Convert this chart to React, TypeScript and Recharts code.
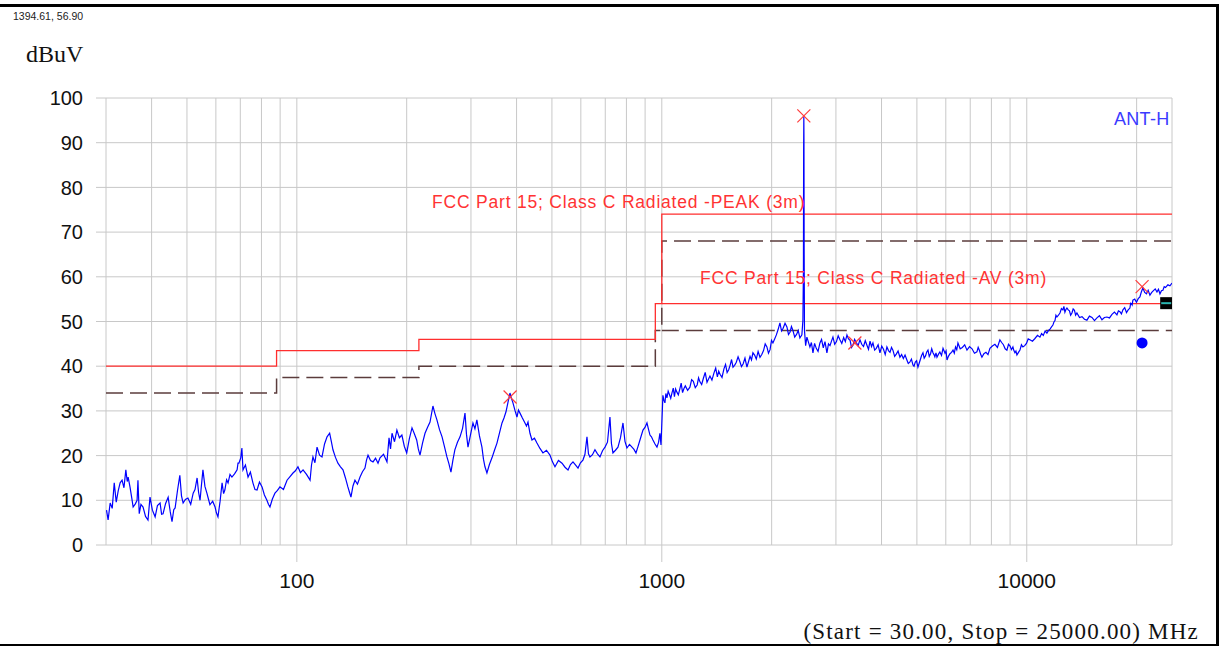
import { ComposedChart, Line, Scatter, XAxis, YAxis, CartesianGrid } from 'recharts';

// grid lines at every 1..9 multiple, labels only on the decades
const gridFreqs = [30, 40, 50, 60, 70, 80, 90, 100, 200, 300, 400, 500, 600, 700, 800, 900, 1000, 2000, 3000, 4000, 5000, 6000, 7000, 8000, 9000, 10000, 20000, 25000];
const labelFreqs = [100, 1000, 10000];
const levelTicks = [0, 10, 20, 30, 40, 50, 60, 70, 80, 90, 100];

// limit lines [MHz, dBuV]
const peakLimit = [[30, 40], [88, 40], [88, 43.5], [216, 43.5], [216, 46], [960, 46], [960, 54], [1000, 54], [1000, 74], [25000, 74]];
const avLimit = [[1000, 54], [25000, 54]];
const peakMargin = [[30, 34], [88, 34], [88, 37.5], [216, 37.5], [216, 40], [960, 40], [960, 48], [1000, 48], [1000, 68], [25000, 68]];
const avMargin = [[1000, 48], [25000, 48]];

// measured trace, 30 - 100 MHz
const traceLow = [
  [30.1, 7.8], [30.4, 5.6], [30.8, 9.4], [31.2, 8.2], [31.6, 13.9], [32.0, 9.6], [32.4, 12.1], [32.8, 13.9], [33.2, 14.5], [33.6, 12.8],
  [34.0, 16.8], [34.3, 14.2], [34.5, 15.2], [34.9, 13.0], [35.3, 10.5], [35.6, 8.5], [36.1, 9.2], [36.5, 10.0], [36.7, 14.5], [37.0, 7.0],
  [37.4, 9.1], [37.9, 8.5], [38.5, 6.4], [39.1, 5.6], [39.6, 10.7], [40.2, 7.8], [40.9, 6.3], [41.5, 8.8], [42.2, 9.4], [42.6, 6.9],
  [43.0, 7.0], [43.7, 9.3], [44.4, 10.7], [45.0, 7.4], [45.5, 5.2], [46.0, 7.9], [46.4, 8.3], [47.1, 12.2], [47.8, 15.6], [48.3, 11.0],
  [48.8, 9.4], [49.5, 10.2], [50.3, 10.5], [51.2, 9.1], [52.0, 11.6], [52.6, 12.4], [53.3, 15.0], [53.8, 11.8], [54.3, 10.0], [54.8, 13.5],
  [55.3, 16.8], [56.0, 13.1], [56.7, 11.6], [57.2, 10.4], [57.8, 9.0], [58.8, 9.8], [59.7, 8.5], [60.2, 7.2], [60.8, 6.3], [61.6, 9.7],
  [62.4, 13.9], [63.0, 11.5], [63.5, 12.3], [64.2, 14.6], [64.8, 13.9], [65.6, 15.8], [66.4, 15.2], [67.5, 15.9], [68.6, 16.8], [69.0, 18.3],
  [69.4, 18.3], [70.2, 19.5], [70.7, 21.7], [71.2, 16.8], [72.3, 17.9], [73.5, 15.2], [74.6, 16.3], [75.8, 13.9], [76.8, 12.4], [77.8, 12.3],
  [79.0, 14.1], [80.3, 13.0], [81.5, 11.2], [82.8, 10.0], [83.6, 9.1], [84.4, 8.5], [85.7, 10.3], [87.1, 11.6], [88.5, 12.2], [89.9, 13.0],
  [91.9, 12.4], [94.0, 14.5], [95.8, 15.3], [97.6, 16.1], [99.1, 16.6], [100.7, 17.5],
];

// 100 - 1000 MHz
const traceMid = [
  [102.3, 16.2], [104, 16.8], [106.3, 15.8], [108.7, 14.5], [109.7, 17.9], [110.7, 19.7], [112.1, 18.4], [113.6, 21.9], [115.4, 20.1], [117.2, 19.7],
  [119.1, 22.6], [121, 24.2], [123, 25.0], [124.3, 23.2], [125.6, 21.3], [127.6, 19.6], [129.6, 18.3], [131.7, 17.5], [133.8, 16.8], [135.9, 15.0],
  [138, 13.0], [139.4, 11.8], [140.7, 10.7], [142.5, 13.2], [144.3, 14.5], [146.6, 13.6], [149, 15.2], [151.3, 16.4], [153.7, 17.2], [155.2, 19.0],
  [156.7, 20.1], [159.2, 18.9], [161.7, 18.6], [164.3, 19.4], [166.9, 18.3], [169, 19.5], [172.8, 20.3], [176.6, 18.6], [178.9, 24.0], [180.6, 21.5],
  [182.3, 25.0], [185.2, 23.1], [188, 25.7], [191, 24.0], [194, 24.6], [197, 22.1], [200, 20.6], [203.4, 23.8], [206.8, 26.2], [209.9, 24.9],
  [213, 23.5], [215.2, 21.5], [217.5, 20.1], [221, 22.8], [224.5, 25.0], [228, 26.3], [231.7, 27.5], [236, 31.1], [239, 29.4], [242, 28.0],
  [246, 25.8], [250, 24.2], [253.8, 22.0], [257.8, 19.7], [261, 18.2], [264.4, 16.3], [267.7, 19.0], [271, 21.3], [275.5, 23.0], [280, 24.2],
  [284.5, 26.1], [288.9, 29.5], [291.6, 24.8], [294.4, 21.9], [299, 24.6], [303.8, 27.3], [307.6, 26.0], [311.4, 28.0], [316.5, 24.4], [321.5, 21.9],
  [324.6, 19.2], [327.7, 17.5], [331.8, 16.1], [337, 18.0], [342.5, 19.5], [348, 21.2], [353.5, 22.8], [359.2, 25.1], [364.9, 27.3], [369.5, 28.4],
  [374.2, 29.8], [378.9, 31.9], [383.7, 34.0], [387.3, 32.8], [391, 31.8], [396, 30.1], [401, 28.6], [404.8, 30.2], [408.7, 29.5], [415, 28.4],
  [421.8, 27.3], [425.8, 26.6], [429.9, 27.5], [435.3, 25.0], [440.8, 23.5], [447.8, 23.9], [454.9, 22.8], [463.6, 21.6], [472.5, 20.6], [483, 21.2],
  [493.8, 20.1], [501.7, 18.6], [509.7, 17.5], [521, 18.9], [532.8, 18.3], [543, 17.4], [553.4, 16.8], [562, 18.0], [571, 18.6], [580, 17.9],
  [589.4, 17.2], [598.6, 18.4], [608, 19.0], [615.8, 20.3], [623.7, 24.2], [629.6, 20.4], [635.5, 19.7], [645.7, 20.2], [655.9, 21.3], [666.4, 20.4],
  [677, 19.7], [687.9, 21.1], [698.8, 21.9], [709.8, 23.0], [721, 28.6], [727.8, 22.7], [734.8, 20.6], [746.5, 21.2], [758.4, 21.9], [770.6, 24.0],
  [782.8, 27.3], [792.7, 23.2], [802.7, 21.7], [815.6, 22.5], [828.5, 21.9], [839, 21.4], [849.6, 20.6], [860.4, 22.0], [871.3, 23.5], [888, 25.7],
  [899.3, 26.3], [910.6, 27.3], [919.3, 25.9], [928, 24.6], [936.8, 24.2], [945.6, 23.5], [958, 22.6], [970, 21.9], [980, 23.0], [988, 25.0],
  [995, 22.4],
];

// 1 - 25 GHz
const traceHigh = [
  [1007, 33.5], [1013, 32.4], [1020, 31.8], [1026, 33.9], [1033, 32.9], [1041, 34.4], [1050, 33.6], [1058, 32.8], [1066, 34.0], [1075, 35.1],
  [1083, 33.2], [1091, 34.9], [1100, 34.2], [1110, 33.6], [1121, 35.0], [1130, 36.2], [1140, 34.1], [1150, 35.0], [1160, 35.6], [1177, 34.6],
  [1194, 35.3], [1207, 37.0], [1220, 36.6], [1235, 35.2], [1250, 35.8], [1261, 37.4], [1272, 36.5], [1286, 35.9], [1300, 37.3], [1315, 38.6],
  [1330, 36.4], [1342, 37.1], [1355, 37.8], [1372, 36.9], [1390, 38.5], [1405, 39.6], [1420, 37.6], [1432, 38.9], [1444, 38.2], [1462, 37.5],
  [1480, 39.4], [1495, 40.4], [1510, 38.6], [1525, 39.2], [1540, 40.3], [1553, 41.5], [1567, 39.8], [1583, 40.2], [1600, 40.9], [1618, 42.1],
  [1637, 41.0], [1653, 39.9], [1670, 40.5], [1690, 41.8], [1711, 39.8], [1728, 41.0], [1745, 42.2], [1761, 41.4], [1777, 43.0], [1796, 42.5],
  [1815, 41.6], [1836, 43.3], [1858, 42.0], [1879, 42.6], [1900, 43.5], [1920, 45.0], [1941, 44.3], [1960, 42.9], [1980, 43.7], [1998, 45.8],
  [2016, 45.2], [2038, 46.1], [2060, 47.0], [2083, 48.2], [2107, 49.7], [2128, 47.9], [2150, 48.5], [2176, 49.6], [2202, 48.8], [2224, 47.1],
  [2245, 47.6], [2266, 48.9], [2287, 48.0], [2313, 46.5], [2340, 47.1], [2365, 48.0], [2390, 46.3], [2420, 47.0], [2436, 50.3], [2444, 62.0],
  [2447, 88.0], [2450, 95.8], [2452, 91.0], [2455, 66.0], [2460, 48.0], [2478, 44.6], [2498, 46.5], [2522, 45.4], [2546, 44.3], [2570, 45.3],
  [2595, 43.0], [2622, 45.1], [2650, 44.0], [2680, 43.3], [2712, 45.2], [2740, 46.0], [2770, 44.1], [2800, 45.5], [2834, 43.0], [2862, 45.0],
  [2890, 44.6], [2917, 45.6], [2944, 46.5], [2977, 44.9], [3010, 45.5], [3043, 46.8], [3077, 45.9], [3113, 45.1], [3150, 46.4], [3183, 45.5],
  [3216, 47.0], [3248, 46.1], [3280, 45.8], [3310, 44.2], [3340, 44.7], [3375, 46.0], [3410, 45.3], [3450, 44.6], [3491, 45.9], [3530, 44.9],
  [3570, 44.4], [3610, 45.7], [3648, 44.7], [3684, 43.8], [3720, 45.6], [3755, 44.4], [3789, 45.2], [3830, 43.6], [3870, 44.0], [3915, 44.8],
  [3960, 43.0], [4005, 44.5], [4050, 43.8], [4094, 42.6], [4138, 44.3], [4180, 43.5], [4220, 43.1], [4260, 44.2], [4298, 43.6], [4345, 42.2],
  [4390, 42.7], [4440, 43.4], [4492, 42.0], [4540, 42.6], [4590, 41.7], [4640, 42.5], [4694, 41.4], [4735, 40.6], [4780, 40.9], [4830, 41.6],
  [4877, 40.3], [4910, 40.0], [4950, 40.9], [4990, 41.2], [5033, 39.8], [5070, 40.6], [5110, 41.5], [5150, 42.4], [5195, 43.0], [5235, 41.8],
  [5280, 42.3], [5320, 43.2], [5362, 43.6], [5405, 42.2], [5450, 42.8], [5490, 43.9], [5534, 43.0], [5570, 42.6], [5600, 42.1], [5640, 43.0],
  [5675, 42.0], [5730, 42.7], [5780, 43.2], [5840, 42.4], [5896, 44.0], [5930, 43.5], [5970, 42.9], [6010, 43.4], [6046, 41.4], [6100, 42.2],
  [6160, 42.8], [6220, 43.1], [6280, 43.6], [6330, 42.9], [6380, 44.3], [6430, 43.7], [6478, 45.2], [6570, 43.9], [6660, 44.2], [6760, 44.8],
  [6857, 43.6], [6970, 44.4], [7080, 43.9], [7190, 42.9], [7302, 43.2], [7360, 44.2], [7420, 43.5], [7480, 42.6], [7536, 42.0], [7630, 42.8],
  [7730, 43.1], [7830, 42.6], [7926, 44.0], [8050, 44.5], [8180, 44.9], [8310, 44.2], [8441, 45.9], [8535, 45.3], [8630, 44.8], [8725, 43.9],
  [8823, 43.6], [8910, 44.9], [9000, 44.5], [9080, 43.7], [9163, 44.3], [9220, 43.5], [9280, 43.0], [9340, 43.4], [9398, 42.5], [9490, 43.1],
  [9580, 43.6], [9670, 44.8], [9760, 44.3], [9870, 44.6], [9980, 45.1], [10090, 46.1], [10200, 45.9], [10365, 45.6], [10530, 46.2], [10700, 46.9],
  [10866, 46.5], [10980, 47.3], [11100, 46.9], [11230, 47.9], [11355, 47.4], [11470, 48.0], [11580, 48.3], [11690, 48.8], [11794, 49.2], [11870, 49.9],
  [11950, 50.2], [12020, 51.4], [12097, 51.0], [12210, 51.4], [12330, 51.9], [12445, 52.9], [12560, 52.6], [12640, 53.4], [12720, 52.1], [12800, 52.7],
  [12884, 53.0], [12990, 52.6], [13090, 52.4], [13190, 51.4], [13297, 51.9], [13400, 52.8], [13510, 52.5], [13610, 51.4], [13722, 51.9], [13950, 50.9],
  [14170, 51.1], [14390, 50.5], [14615, 50.3], [14850, 51.2], [15090, 50.9], [15330, 50.2], [15569, 50.8], [15820, 51.3], [16070, 50.4], [16320, 50.9],
  [16582, 51.0], [16850, 50.8], [17120, 51.6], [17390, 52.1], [17663, 51.5], [17830, 52.4], [18000, 52.2], [18170, 51.7], [18342, 52.6], [18550, 53.1],
  [18760, 52.0], [18960, 52.6], [19170, 53.0], [19260, 54.1], [19350, 54.0], [19440, 53.7], [19535, 54.8], [19760, 55.0], [19980, 54.3], [20200, 55.1],
  [20418, 55.5], [20600, 56.6], [20808, 57.5], [21040, 56.5], [21280, 56.2], [21510, 57.0], [21750, 55.9], [22000, 56.5], [22240, 56.9], [22490, 57.3],
  [22740, 56.6], [22950, 57.2], [23170, 56.2], [23390, 56.9], [23607, 57.0], [23800, 57.8], [24000, 57.6], [24180, 57.9], [24364, 58.2], [24680, 58.0],
  [25000, 58.6],
];

const peakMarks = [[384, 33.1], [2450, 96], [3381, 45.2], [20700, 57.8]];
const avgMarks = [[20700, 45.2]];
const cursorMark = [[24100, 54.1]];

const toPts = (arr: number[][]) => arr.map(([f, v]) => ({ f, v }));
const trace = [...toPts(traceLow), ...toPts(traceMid), ...toPts(traceHigh)];

const FONT = "Arial, 'Liberation Sans', sans-serif";
const SERIF = "'Times New Roman', 'Liberation Serif', serif";

const FreqTick = (props: any) => {
  const { x, y, payload } = props;
  if (!labelFreqs.includes(payload.value)) return <g />;
  return (
    <g>
      <line x1={x} y1={y} x2={x} y2={y + 17} stroke="#c8c8c8" />
      <text x={x} y={y + 43} textAnchor="middle" fontSize={21} fontFamily={FONT} fill="#111">{payload.value}</text>
    </g>
  );
};

const Cross = (props: any) => {
  const { cx, cy } = props;
  const s = 6.5;
  return (
    <g stroke="#ff3b3b" strokeWidth={1.2}>
      <line x1={cx - s} y1={cy - s} x2={cx + s} y2={cy + s} />
      <line x1={cx - s} y1={cy + s} x2={cx + s} y2={cy - s} />
    </g>
  );
};

const Dot = (props: any) => <circle cx={props.cx} cy={props.cy} r={5.5} fill="#0000ff" />;

const Cursor = (props: any) => {
  const { cx, cy } = props;
  return (
    <g>
      <rect x={cx - 6} y={cy - 6} width={12} height={12} fill="#000" />
      <line x1={cx - 5} y1={cy} x2={cx + 5} y2={cy} stroke="#2bb5b0" strokeWidth={2} />
    </g>
  );
};

export default function App() {
  return (
    <div style={{ position: 'absolute', left: 0, top: 0, width: 1220, height: 646, background: '#fff', overflow: 'hidden' }}>
      <ComposedChart width={1220} height={646} margin={{ top: 98, right: 48, bottom: 41, left: 0 }} style={{ fontFamily: FONT }}>
        <CartesianGrid stroke="#c8c8c8" />
        <XAxis
          dataKey="f"
          type="number"
          scale="log"
          domain={[30, 25000]}
          allowDataOverflow
          ticks={gridFreqs}
          interval={0}
          tick={<FreqTick />}
          tickLine={false}
          axisLine={false}
          tickSize={0}
          tickMargin={0}
          height={60}
        />
        <YAxis
          dataKey="v"
          type="number"
          domain={[0, 100]}
          allowDataOverflow
          ticks={levelTicks}
          interval={0}
          width={106}
          axisLine={false}
          tickLine={{ stroke: '#c8c8c8' }}
          tickSize={10}
          tickMargin={13}
          tick={{ fontSize: 20, fill: '#111', fontFamily: FONT }}
        />
        <Line data={toPts(peakMargin)} dataKey="v" stroke="#5b3c3c" strokeWidth={1.5} strokeDasharray="17 7" dot={false} isAnimationActive={false} />
        <Line data={toPts(avMargin)} dataKey="v" stroke="#5b3c3c" strokeWidth={1.5} strokeDasharray="17 7" dot={false} isAnimationActive={false} />
        <Line data={toPts(peakLimit)} dataKey="v" stroke="#ff2e2e" strokeWidth={1.3} dot={false} isAnimationActive={false} />
        <Line data={toPts(avLimit)} dataKey="v" stroke="#ff2e2e" strokeWidth={1.3} dot={false} isAnimationActive={false} />
        <Line data={trace} dataKey="v" stroke="#0000ff" strokeWidth={1.2} dot={false} isAnimationActive={false} />
        <Scatter data={toPts(peakMarks)} dataKey="v" shape={<Cross />} isAnimationActive={false} />
        <Scatter data={toPts(avgMarks)} dataKey="v" shape={<Dot />} isAnimationActive={false} />
        <Scatter data={toPts(cursorMark)} dataKey="v" shape={<Cursor />} isAnimationActive={false} />
      </ComposedChart>
      <svg width={1220} height={646} style={{ position: 'absolute', left: 0, top: 0, pointerEvents: 'none' }}>
        <text x={13} y={20} fontSize={10.5} fontFamily={FONT} fill="#222">1394.61, 56.90</text>
        <text x={26} y={62} fontSize={24} fontFamily={SERIF} fill="#111">dBuV</text>
        <text x={1114} y={125} fontSize={18} fontFamily={FONT} fill="#3b3bff" letterSpacing={0.3}>ANT-H</text>
        <text x={432} y={208} fontSize={17.5} fontFamily={FONT} fill="#ff3333" letterSpacing={0.8}>FCC Part 15; Class C Radiated -PEAK (3m)</text>
        <text x={700} y={284} fontSize={17.5} fontFamily={FONT} fill="#ff3333" letterSpacing={0.8}>FCC Part 15; Class C Radiated -AV (3m)</text>
        <text x={1199} y={639} textAnchor="end" fontSize={23} fontFamily={SERIF} fill="#111" letterSpacing={1.2}>(Start = 30.00, Stop = 25000.00) MHz</text>
      </svg>
      <div style={{ position: 'absolute', left: -10, top: 4, width: 1229, height: 643, border: '3px solid #000', boxSizing: 'border-box', pointerEvents: 'none' }} />
    </div>
  );
}
